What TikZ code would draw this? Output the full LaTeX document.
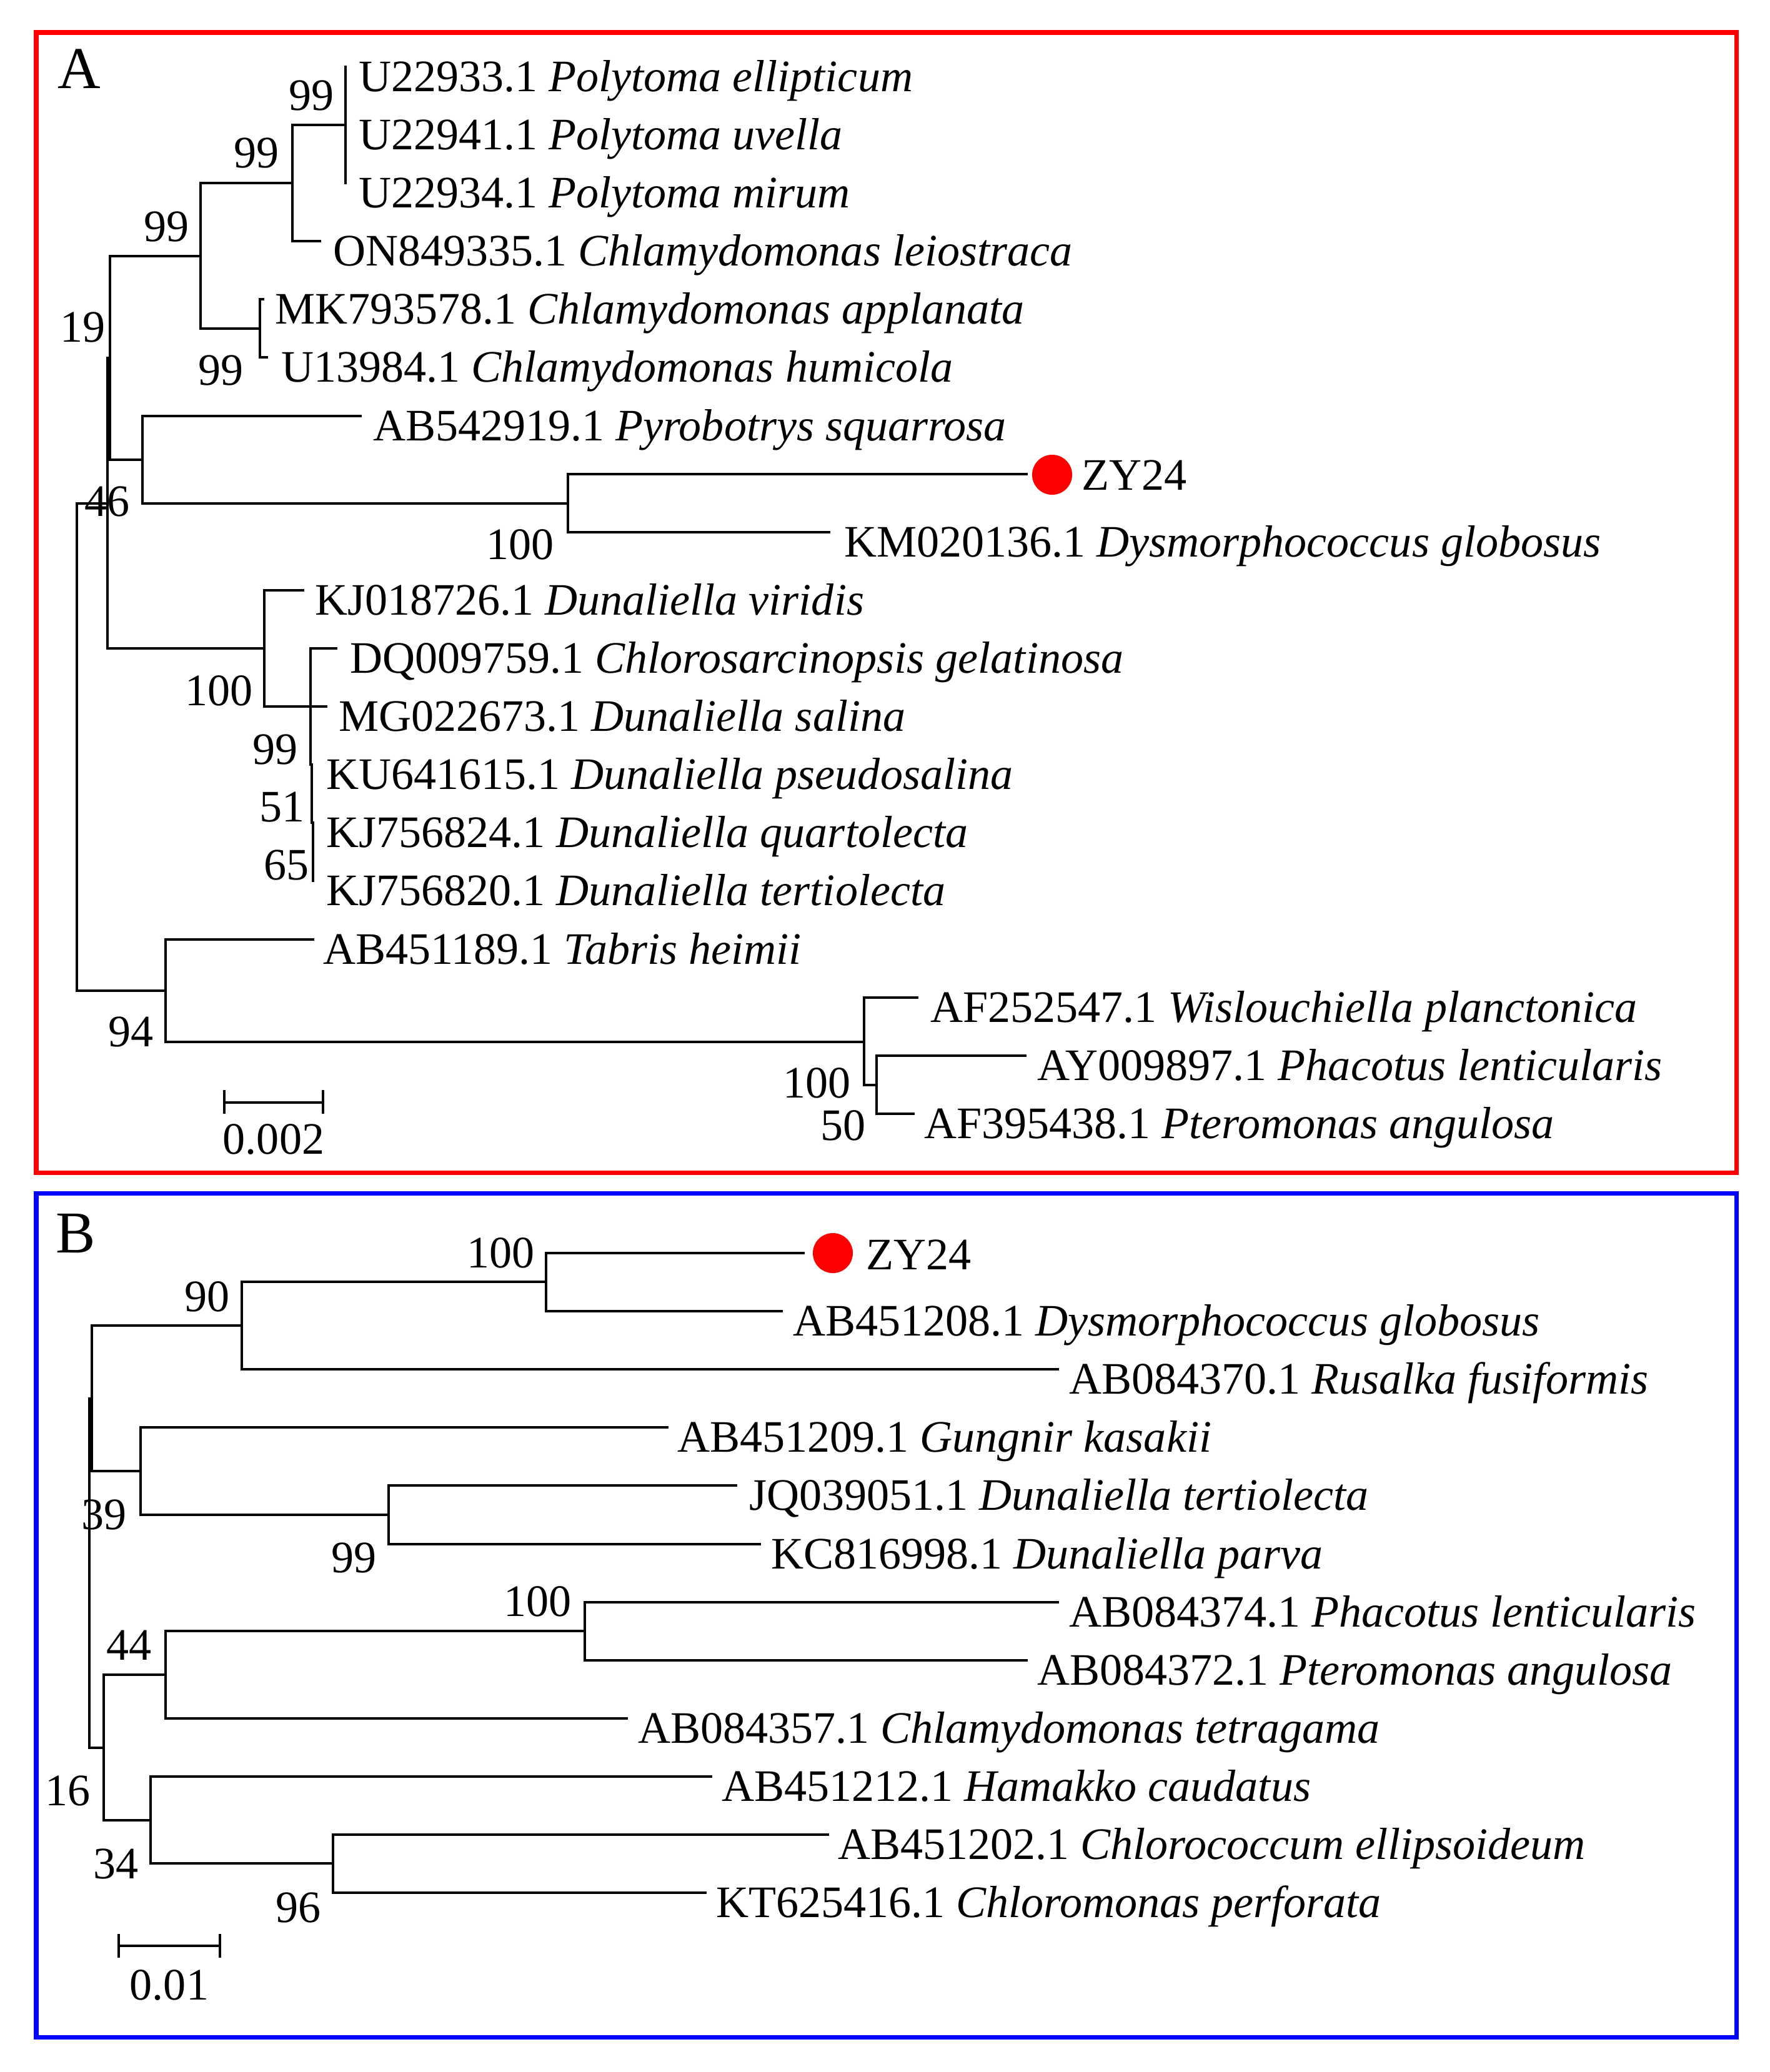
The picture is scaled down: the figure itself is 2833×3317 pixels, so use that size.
\documentclass[tikz,border=0pt]{standalone}
\usepackage{fontspec}
\setmainfont{Liberation Serif}
\begin{document}
\begin{tikzpicture}[x=0.01cm,y=-0.01cm,
  br/.style={line width=1pt, line cap=rect},
  lab/.style={font=\fontsize{20.5}{24}\selectfont, inner sep=0pt, outer sep=0pt},
  boot/.style={lab, anchor=base east},
  panel/.style={font=\fontsize{27}{30}\selectfont, inner sep=0pt, anchor=base west},
  dot/.style={circle, fill=red, minimum size=0.64cm, inner sep=0pt},
  frameA/.style={draw=red, line width=2pt},
  frameB/.style={draw=blue, line width=2pt}]
\useasboundingbox (0,0) rectangle (2833,3317);
\newcommand\tip[5]{% name, xend, y, textx, label
  \coordinate (#1) at (#2,#3);
  \node[lab, anchor=base west] (#1l) at (#4,#3+39) {#5};}
\newcommand\br[2]{\draw[br] (#1) |- (#2);}
% frames
\draw[frameA] (58,52) rectangle (2779,1877);
\draw[frameB] (58,1910) rectangle (2779,3261);
\node[panel] (pA) at (92,141) {A};
\node[panel] (pB) at (89,2005) {B};
% ================= Panel A =================
\tip{tA0}{553}{107}{574}{U22933.1 \textit{Polytoma ellipticum}}
\tip{tA1}{553}{200}{574}{U22941.1 \textit{Polytoma uvella}}
\tip{tA2}{553}{293}{574}{U22934.1 \textit{Polytoma mirum}}
\tip{tA3}{512}{386}{533}{ON849335.1 \textit{Chlamydomonas leiostraca}}
\tip{tA4}{421}{479}{440}{MK793578.1 \textit{Chlamydomonas applanata}}
\tip{tA5}{427}{572}{450}{U13984.1 \textit{Chlamydomonas humicola}}
\tip{tA6}{577}{666}{597}{AB542919.1 \textit{Pyrobotrys squarrosa}}
\coordinate (tA7) at (1643,759);
\node[dot] (dA) at (1684,760) {};
\node[lab, anchor=base west] (tA7l) at (1731,784) {ZY24};
\tip{tA8}{1327}{852}{1351}{KM020136.1 \textit{Dysmorphococcus globosus}}
\tip{tA9}{485}{945}{504}{KJ018726.1 \textit{Dunaliella viridis}}
\tip{tA10}{538}{1038}{560}{DQ009759.1 \textit{Chlorosarcinopsis gelatinosa}}
\tip{tA11}{522}{1131}{542}{MG022673.1 \textit{Dunaliella salina}}
\tip{tA12}{499}{1224}{522}{KU641615.1 \textit{Dunaliella pseudosalina}}
\tip{tA13}{500}{1317}{522}{KJ756824.1 \textit{Dunaliella quartolecta}}
\tip{tA14}{501}{1410}{522}{KJ756820.1 \textit{Dunaliella tertiolecta}}
\tip{tA15}{501}{1504}{517}{AB451189.1 \textit{Tabris heimii}}
\tip{tA16}{1468}{1597}{1489}{AF252547.1 \textit{Wislouchiella planctonica}}
\tip{tA17}{1641}{1690}{1660}{AY009897.1 \textit{Phacotus lenticularis}}
\tip{tA18}{1462}{1783}{1479}{AF395438.1 \textit{Pteromonas angulosa}}
% internal nodes A
\coordinate (nPoly) at (553,200);
\coordinate (nP2) at (468,293);
\coordinate (nMK) at (416,526);
\coordinate (nP1) at (321,410);
\coordinate (n19) at (176,573);
\coordinate (nPy) at (228,736);
\coordinate (nZY) at (909,806);
\coordinate (n46) at (172,806);
\coordinate (nDun) at (423,1038);
\coordinate (nD99) at (497,1131);
\coordinate (nRoot) at (123,1196);
\coordinate (nTab) at (265,1586);
\coordinate (nWis) at (1383,1668);
\coordinate (nPh) at (1403,1737);
% branches A
\draw[br] (tA0) -- (tA2);
\br{nP2}{nPoly} \br{nP2}{tA3}
\br{nMK}{tA4} \br{nMK}{tA5}
\br{nP1}{nP2} \br{nP1}{nMK}
\br{n19}{nP1} \br{n19}{nPy}
\br{nPy}{tA6} \br{nPy}{nZY}
\br{nZY}{tA7} \br{nZY}{tA8}
\br{n46}{n19} \br{n46}{nDun}
\br{nDun}{tA9} \br{nDun}{nD99}
\br{nD99}{tA10} \br{nD99}{tA11}
\draw[br] (nD99) -- (497,1224) -- (tA12) -- (499,1317) -- (tA13) -- (501,1317) -- (tA14);
\br{nRoot}{n46} \br{nRoot}{nTab}
\br{nTab}{tA15} \br{nTab}{nWis}
\br{nWis}{tA16} \br{nWis}{nPh}
\br{nPh}{tA17} \br{nPh}{tA18}
% bootstrap A
\node[boot] (bA1) at (535,176) {99};
\node[boot] (bA2) at (447,268) {99};
\node[boot] (bA3) at (303,386) {99};
\node[boot] (bA4) at (169,547) {19};
\node[boot] (bA5) at (390,616) {99};
\node[boot] (bA6) at (208,826) {46};
\node[boot] (bA7) at (887,895) {100};
\node[boot] (bA8) at (405,1129) {100};
\node[boot] (bA9) at (477,1223) {99};
\node[boot] (bA10) at (488,1315) {51};
\node[boot] (bA11) at (495,1408) {65};
\node[boot] (bA12) at (246,1675) {94};
\node[boot] (bA13) at (1362,1757) {100};
\node[boot] (bA14) at (1386,1825) {50};
% scale bar A
\coordinate (sA1) at (359,1765);
\coordinate (sA2) at (517,1765);
\draw[br] (sA1) -- (sA2);
\draw[br] (359,1747) -- (359,1781);
\draw[br] (517,1747) -- (517,1781);
\node[lab, anchor=base] (sAl) at (438,1847) {0.002};
% ================= Panel B =================
\coordinate (tB0) at (1286,2006);
\node[dot] (dB) at (1333,2006) {};
\node[lab, anchor=base west] (tB0l) at (1386,2032) {ZY24};
\tip{tB1}{1251}{2099}{1269}{AB451208.1 \textit{Dysmorphococcus globosus}}
\tip{tB2}{1693}{2192}{1711}{AB084370.1 \textit{Rusalka fusiformis}}
\tip{tB3}{1068}{2285}{1084}{AB451209.1 \textit{Gungnir kasakii}}
\tip{tB4}{1178}{2378}{1199}{JQ039051.1 \textit{Dunaliella tertiolecta}}
\tip{tB5}{1216}{2472}{1234}{KC816998.1 \textit{Dunaliella parva}}
\tip{tB6}{1693}{2565}{1711}{AB084374.1 \textit{Phacotus lenticularis}}
\tip{tB7}{1643}{2658}{1660}{AB084372.1 \textit{Pteromonas angulosa}}
\tip{tB8}{1003}{2751}{1021}{AB084357.1 \textit{Chlamydomonas tetragama}}
\tip{tB9}{1138}{2844}{1155}{AB451212.1 \textit{Hamakko caudatus}}
\tip{tB10}{1325}{2937}{1341}{AB451202.1 \textit{Chlorococcum ellipsoideum}}
\tip{tB11}{1129}{3030}{1146}{KT625416.1 \textit{Chloromonas perforata}}
% internal nodes B
\coordinate (nBZ) at (874,2052);
\coordinate (nB90) at (387,2122);
\coordinate (nB39) at (147,2239);
\coordinate (nBG) at (225,2355);
\coordinate (nBD) at (622,2425);
\coordinate (nBroot) at (143,2518);
\coordinate (nB16) at (166,2798);
\coordinate (nB44) at (265,2681);
\coordinate (nBP) at (936,2611);
\coordinate (nB34) at (241,2914);
\coordinate (nB96) at (533,2983);
% branches B
\br{nBZ}{tB0} \br{nBZ}{tB1}
\br{nB90}{nBZ} \br{nB90}{tB2}
\br{nB39}{nB90} \br{nB39}{nBG}
\br{nBG}{tB3} \br{nBG}{nBD}
\br{nBD}{tB4} \br{nBD}{tB5}
\br{nBroot}{nB39} \br{nBroot}{nB16}
\br{nB16}{nB44} \br{nB16}{nB34}
\br{nB44}{nBP} \br{nB44}{tB8}
\br{nBP}{tB6} \br{nBP}{tB7}
\br{nB34}{tB9} \br{nB34}{nB96}
\br{nB96}{tB10} \br{nB96}{tB11}
% bootstrap B
\node[boot] (bB1) at (856,2029) {100};
\node[boot] (bB2) at (368,2099) {90};
\node[boot] (bB3) at (203,2448) {39};
\node[boot] (bB4) at (603,2517) {99};
\node[boot] (bB5) at (915,2587) {100};
\node[boot] (bB6) at (243,2657) {44};
\node[boot] (bB7) at (145,2890) {16};
\node[boot] (bB8) at (222,3007) {34};
\node[boot] (bB9) at (514,3077) {96};
% scale bar B
\coordinate (sB1) at (190,3115);
\coordinate (sB2) at (352,3115);
\draw[br] (sB1) -- (sB2);
\draw[br] (190,3098) -- (190,3132);
\draw[br] (352,3098) -- (352,3132);
\node[lab, anchor=base] (sBl) at (271,3201) {0.01};
\end{tikzpicture}
\end{document}
